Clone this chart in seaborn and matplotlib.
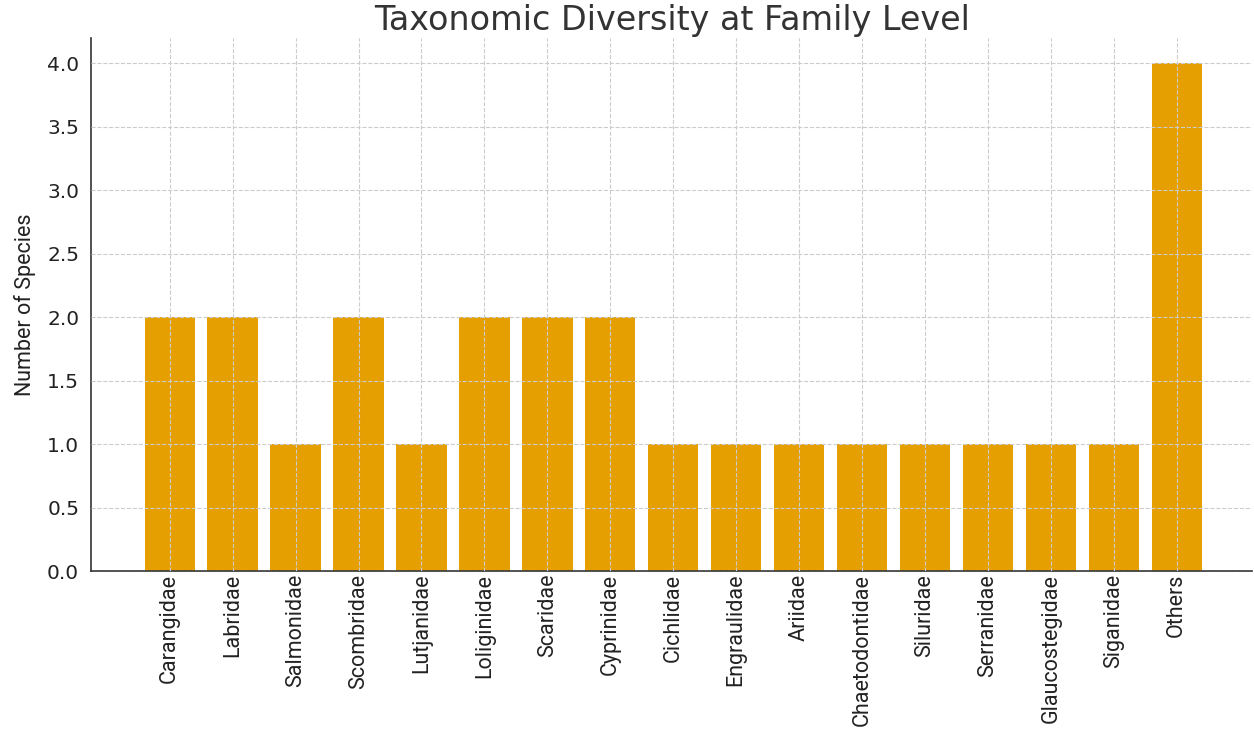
import matplotlib
matplotlib.use("Agg")
import matplotlib.pyplot as plt
import seaborn as sns
import pandas as pd

families = ['Carangidae', 'Labridae', 'Salmonidae', 'Scombridae', 'Lutjanidae',
            'Loliginidae', 'Scaridae', 'Cyprinidae', 'Cichlidae', 'Engraulidae',
            'Ariidae', 'Chaetodontidae', 'Siluridae', 'Serranidae',
            'Glaucostegidae', 'Siganidae', 'Others']
species = [2, 2, 1, 2, 1, 2, 2, 2, 1, 1, 1, 1, 1, 1, 1, 1, 4]
yticks = [0, 0.5, 1, 1.5, 2, 2.5, 3, 3.5, 4]

df = pd.DataFrame({'Family': families, 'Species': species})

sns.set_style('white')
plt.rcParams['font.family'] = ['DejaVu Sans']

fig = plt.figure(figsize=(12.54, 7.29), dpi=100)
ax = fig.add_axes([0.0726, 0.2167, 0.926, 0.7313])

sns.barplot(data=df, x='Family', y='Species', color='#E69F00',
            saturation=1, width=0.8, linewidth=0, ax=ax)

ax.set_xlim(-1.25, 17.2)
ax.set_ylim(0, 4.2)
ax.set_yticks(yticks)
ax.set_yticklabels([f'{v:.1f}' for v in yticks], fontsize=14.5, color='#222222')
ax.set_xticks(range(len(families)))
ax.set_xticklabels(families, rotation=90, fontsize=15.5,
                   family=['Roboto', 'DejaVu Sans'], color='#222222')

ax.set_xlabel('')
ax.set_ylabel('Number of Species', fontsize=15.5,
              family=['Roboto', 'DejaVu Sans'], color='#222222', labelpad=8)
ax.set_title('Taxonomic Diversity at Family Level', fontsize=24, color='#333333', pad=6)

ax.set_axisbelow(False)
ax.grid(True, linestyle='--', color='#cccccc', linewidth=0.8)
ax.tick_params(axis='x', direction='in', length=5, color='#333333', pad=2)
ax.tick_params(axis='y', direction='out', length=5, color='#333333')
for s in ['top', 'right']:
    ax.spines[s].set_visible(False)
for s in ['left', 'bottom']:
    ax.spines[s].set_color('#333333')
    ax.spines[s].set_linewidth(1.2)

fig.savefig('out.png', dpi=100)
